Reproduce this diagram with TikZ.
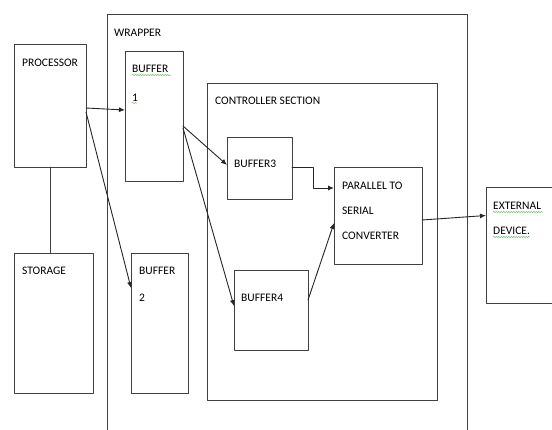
\documentclass[tikz,border=0pt]{standalone}
\usepackage{fontspec}
\setmainfont{Carlito}
\usetikzlibrary{arrows.meta,decorations.pathmorphing}

\begin{document}
\begin{tikzpicture}[line cap=round,line join=round,x=1pt,y=-1pt,
    box/.style={draw=black!75,line width=1pt,anchor=north west,inner sep=0pt,outer sep=0pt},
    lbl/.style={anchor=north west,inner sep=0pt,align=left,text=black,font=\fontsize{11.5}{25}\selectfont},
    arr/.style={draw=black!85,line width=0.9pt,-{Latex[length=6pt,width=5pt]}},
    lnk/.style={draw=black!75,line width=1pt},
    squig/.style={draw=green!55!black!60,line width=0.5pt,decorate,decoration={snake,amplitude=0.6pt,segment length=2.5pt}}]
				\clip (0,0) rectangle (552,429);
				\fill[white] (0,0) rectangle (552,429);
				% outer boxes
				\node[box,minimum width=360pt,minimum height=440pt] (wrap) at (107,14) {};
				\node[box,minimum width=230pt,minimum height=317pt] (ctrl) at (207,83) {};
				% blocks
				\node[box,minimum width=72pt,minimum height=123pt] (proc) at (14,44) {};
				\node[box,minimum width=79pt,minimum height=140pt] (stor) at (14,253) {};
				\node[box,minimum width=58pt,minimum height=130pt] (buf1) at (125,51) {};
				\node[box,minimum width=57pt,minimum height=140pt] (buf2) at (131,253) {};
				\node[box,minimum width=65pt,minimum height=62pt] (buf3) at (227,137) {};
				\node[box,minimum width=74pt,minimum height=80pt] (buf4) at (234,270) {};
				\node[box,minimum width=88pt,minimum height=97pt] (conv) at (334,167) {};
				\node[box,minimum width=80pt,minimum height=116pt] (ext) at (486,187) {};
				% labels
				\node[lbl] (wrapT) at ([xshift=7pt,yshift=-14.6pt]wrap.north west) {WRAPPER};
				\node[lbl] (ctrlT) at ([xshift=8pt,yshift=-13.6pt]ctrl.north west) {CONTROLLER SECTION};
				\node[lbl] (procT) at ([xshift=8pt,yshift=-14.6pt]proc.north west) {PROCESSOR};
				\node[lbl] (storT) at ([xshift=8pt,yshift=-13.6pt]stor.north west) {STORAGE};
				\node[lbl] (buf1T) at ([xshift=7pt,yshift=-13.6pt]buf1.north west) {BUFFER\\[4pt]1};
				\node[lbl] (buf2T) at ([xshift=8pt,yshift=-13.6pt]buf2.north west) {BUFFER\\[2pt]2};
				\node[lbl] (buf3T) at ([xshift=7pt,yshift=-22.6pt]buf3.north west) {BUFFER3};
				\node[lbl] (buf4T) at ([xshift=7pt,yshift=-23.6pt]buf4.north west) {BUFFER4};
				\node[lbl] (convT) at ([xshift=8pt,yshift=-14.6pt]conv.north west) {PARALLEL TO\\SERIAL\\CONVERTER};
				\node[lbl] (extT) at ([xshift=7pt,yshift=-14.6pt]ext.north west) {EXTERNAL\\DEVICE.};
				% spell check marks
				\draw[squig] (132,75) -- (171,75);
				\draw[squig] (132,103) -- (137,103);
				\draw[squig] (493,212) -- (543,212);
				\draw[squig] (493,237) -- (530,237);
				% connectors
				\draw[lnk] (proc.south) -- (proc.south |- stor.north);
				\draw[arr] ([yshift=-2.5pt]proc.east) -- ([yshift=6pt]buf1.west);
				\draw[arr] ([yshift=-6.5pt]proc.east) -- ([yshift=35pt]buf2.west);
				\draw[arr] ([yshift=-10pt]buf1.east) -- ([yshift=3pt]buf3.west);
				\draw[arr] ([yshift=-12pt]buf1.east) -- ([yshift=4pt]buf4.west);
				\draw[arr] ([yshift=1pt]buf3.east) -- ++(21,0) |- ([yshift=27.5pt]conv.west);
				\draw[arr] ([yshift=10pt]buf4.east) -- ([yshift=-7.5pt]conv.west);
				\draw[arr] ([yshift=-4.5pt]conv.east) -- (conv.east -| ext.west);
			\end{tikzpicture}
\end{document}
